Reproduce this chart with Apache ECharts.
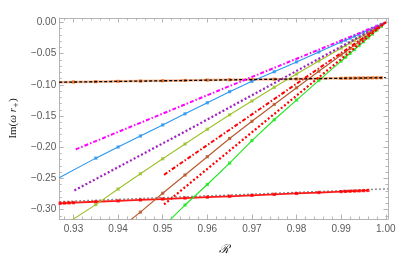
<!DOCTYPE html>
<html><head><meta charset="utf-8">
<script src="https://cdn.jsdelivr.net/npm/echarts@6/dist/echarts.min.js"></script>
<style>html,body{margin:0;padding:0;background:#fff}#c{width:407px;height:261px}</style>
</head><body><div id="c"></div>
<script>
// ---- tick labels ----
const xTickLabels = [0.93, 0.94, 0.95, 0.96, 0.97, 0.98, 0.99, 1.00];
const yTickLabels = [0.00, -0.05, -0.10, -0.15, -0.20, -0.25, -0.30];
const xMinorTicks = [0.928,0.932,0.934,0.936,0.938,0.942,0.944,0.946,0.948,0.952,0.954,0.956,0.958,0.962,0.964,0.966,0.968,0.972,0.974,0.976,0.978,0.982,0.984,0.986,0.988,0.992,0.994,0.996,0.998];
const yMinorTicks = [-0.01,-0.02,-0.03,-0.04,-0.06,-0.07,-0.08,-0.09,-0.11,-0.12,-0.13,-0.14,-0.16,-0.17,-0.18,-0.19,-0.21,-0.22,-0.23,-0.24,-0.26,-0.27,-0.28,-0.29,-0.31];

// ---- converging lines (no markers) ----
const magentaX = [0.9305, 0.965, 1.0];
const magentaY = [-0.2035, -0.102, 0];
const purpleX = [0.9302, 0.9577, 1.0];
const purpleY = [-0.2693, -0.1646, 0];
const redDashDotX = [0.9503, 1.0];
const redDashDotY = [-0.2442, 0];
const redDotX = [0.9503, 1.0];
const redDotY = [-0.2917, 0];

// ---- converging lines with markers (line start, markers, common end point) ----
const convergeX = 1.0, convergeY = 0;

const blueStartX = 0.9268, blueStartY = -0.249;
const blueX = [0.935,0.94,0.945,0.95,0.955,0.96,0.965,0.97,0.975,0.98,0.985,0.99,0.991,0.992,0.993,0.994,0.995,0.996,0.997,0.998,0.999];
const blueY = [-0.2175,-0.1997,-0.1820,-0.1643,-0.1465,-0.1288,-0.1110,-0.0945,-0.0790,-0.0633,-0.0475,-0.0316,-0.0285,-0.0253,-0.0221,-0.0190,-0.0158,-0.0126,-0.0095,-0.0063,-0.0032];

const oliveStartX = 0.9285, oliveStartY = -0.322;
const oliveX = [0.935,0.94,0.945,0.95,0.955,0.96,0.965,0.97,0.975,0.98,0.985,0.99,0.991,0.992,0.993,0.994,0.995,0.996,0.997,0.998,0.999];
const oliveY = [-0.292,-0.267,-0.2425,-0.2185,-0.1948,-0.1712,-0.148,-0.126,-0.104,-0.0828,-0.062,-0.0413,-0.0372,-0.033,-0.029,-0.0248,-0.0207,-0.0165,-0.0124,-0.0083,-0.0041];

const brownStartX = 0.942, brownStartY = -0.321;
const brownX = [0.945,0.95,0.955,0.96,0.965,0.97,0.975,0.98,0.985,0.99,0.991,0.992,0.993,0.994,0.995,0.996,0.997,0.998,0.999];
const brownY = [-0.304,-0.2738,-0.2445,-0.2152,-0.186,-0.1585,-0.1315,-0.1048,-0.0784,-0.0522,-0.047,-0.0418,-0.0365,-0.0313,-0.0261,-0.0209,-0.0157,-0.0104,-0.0052];

const greenStartX = 0.951, greenStartY = -0.321;
const greenX = [0.955,0.96,0.965,0.97,0.975,0.98,0.985,0.99,0.991,0.992,0.993,0.994,0.995,0.996,0.997,0.998,0.999];
const greenY = [-0.2926,-0.2597,-0.2255,-0.1894,-0.156,-0.1245,-0.093,-0.0621,-0.0559,-0.0497,-0.0435,-0.0373,-0.031,-0.0248,-0.0186,-0.0124,-0.0062];

// ---- nearly flat branches ----
const blackDashX = [0.9268, 1.0];
const blackDashY = [-0.0959, -0.0886];
const orangeStartX = 0.9268, orangeStartY = -0.0958;
const orangeX = [0.93,0.935,0.94,0.945,0.95,0.955,0.96,0.965,0.97,0.975,0.98,0.985,0.99,0.991,0.992,0.993,0.994,0.995,0.996,0.997,0.998,0.999];
const orangeY = [-0.0955,-0.0950,-0.0945,-0.0940,-0.0935,-0.0930,-0.0925,-0.0920,-0.0915,-0.0910,-0.0906,-0.0901,-0.0896,-0.0895,-0.0894,-0.0893,-0.0892,-0.0891,-0.0890,-0.0889,-0.0888,-0.0887];

const grayDotX = [0.9268, 1.0005];
const grayDotY = [-0.2873, -0.2667];
const redStartX = 0.9268, redStartY = -0.2899;
const redX = [0.927,0.928,0.929,0.93,0.935,0.94,0.945,0.95,0.955,0.96,0.965,0.97,0.975,0.98,0.985,0.99,0.991,0.992,0.993,0.994,0.995,0.996];
const redY = [-0.2898,-0.2895,-0.2892,-0.2889,-0.2874,-0.2860,-0.2845,-0.2830,-0.2815,-0.2800,-0.2786,-0.2771,-0.2756,-0.2741,-0.2726,-0.2711,-0.2708,-0.2705,-0.2702,-0.2699,-0.2696,-0.2693];

const zip = (xs, ys) => xs.map((x, i) => [x, ys[i]]);
const withEnds = (sx, sy, xs, ys, ex, ey) => {
  const d = [[sx, sy]].concat(zip(xs, ys));
  if (ex !== undefined) d.push([ex, ey]);
  return d;
};

const X_MIN = 0.9268, X_MAX = 1.0005, Y_MIN = -0.315, Y_MAX = 0.007;
const frameColor = '#b4b4b4';
const labelColor = '#5a5a5a';
const fmtY = v => (v < 0 ? '\u2212' : '') + Math.abs(v).toFixed(2);
const fmtX = v => v.toFixed(2);

function xAx(pos, ticks, len, showLabel, showLine, name) {
  return {
    type: 'value', position: pos, min: X_MIN, max: X_MAX,
    axisLine: { show: showLine, onZero: false, lineStyle: { color: frameColor, width: 1 } },
    axisTick: { show: true, inside: true, length: len, customValues: ticks, lineStyle: { color: frameColor } },
    axisLabel: { show: showLabel, customValues: ticks, formatter: fmtX, color: labelColor, fontSize: 10, fontFamily: 'Liberation Sans', margin: 5 },
    splitLine: { show: false },
    name: name || '', nameLocation: 'middle', nameGap: 25,
    nameTextStyle: { fontFamily: 'DejaVu Serif', fontStyle: 'italic', fontSize: 12, color: '#222' }
  };
}
function yAx(pos, ticks, len, showLabel, showLine, name) {
  return {
    type: 'value', position: pos, min: Y_MIN, max: Y_MAX,
    axisLine: { show: showLine, onZero: false, lineStyle: { color: frameColor, width: 1 } },
    axisTick: { show: true, inside: true, length: len, customValues: ticks, lineStyle: { color: frameColor } },
    axisLabel: { show: showLabel, customValues: ticks, formatter: fmtY, color: labelColor, fontSize: 10, fontFamily: 'Liberation Sans', margin: 3 },
    splitLine: { show: false },
    name: name || '', nameLocation: 'middle', nameGap: 33, nameRotate: 90,
    nameTextStyle: {
      fontFamily: 'Liberation Serif', fontSize: 11, color: '#222',
      rich: { n: { fontFamily: 'Liberation Serif', fontSize: 11, color: '#222' },
              i: { fontFamily: 'Liberation Serif', fontStyle: 'italic', fontSize: 11, color: '#222' },
              s: { fontFamily: 'DejaVu Serif', fontSize: 7, color: '#222', padding: [6, 0, 0, 0] } }
    }
  };
}

function lineS(data, color, width, type, z) {
  return { type: 'line', data, showSymbol: false, symbol: 'none', clip: true, z: z || 2,
    lineStyle: { color, width, type: type || 'solid', cap: 'butt' }, animation: false };
}
function markS(data, color, z) {
  return { type: 'scatter', data, symbol: 'rect', symbolSize: 3.2, clip: true, z: z || 3,
    itemStyle: { color }, animation: false };
}

const chart = echarts.init(document.getElementById('c'), null, { renderer: 'canvas' });
chart.setOption({
  backgroundColor: '#fff',
  animation: false,
  grid: { left: 47, right: 19, top: 18, bottom: 33, containLabel: false },
  xAxis: [
    xAx('bottom', xTickLabels, 4.5, true, true, '\u211B'),
    xAx('bottom', xMinorTicks, 2.5, false, false),
    xAx('top', xTickLabels, 4.5, false, true),
    xAx('top', xMinorTicks, 2.5, false, false)
  ],
  yAxis: [
    yAx('left', yTickLabels, 4.5, true, true, '{n|Im(}{i|\u03C9 r}{s|+}{n|)}'),
    yAx('left', yMinorTicks, 2.5, false, false),
    yAx('right', yTickLabels, 4.5, false, true),
    yAx('right', yMinorTicks, 2.5, false, false)
  ],
  series: [
    lineS(zip(grayDotX, grayDotY), '#8c8c8c', 1.5, [2, 2], 2),
    lineS(withEnds(redStartX, redStartY, redX, redY), '#ff1a1a', 1.8, 'solid', 2),
    markS(zip(redX, redY), '#ff0000', 3),
    lineS(withEnds(orangeStartX, orangeStartY, orangeX, orangeY), 'rgba(240,120,50,0.55)', 2.5, 'solid', 2),
    markS(zip(orangeX, orangeY), '#f06a1e', 3),
    lineS(zip(blackDashX, blackDashY), '#000', 1.3, [3, 2], 4),
    lineS(zip(magentaX, magentaY), '#ff00ff', 2, [4, 2, 1.5, 2], 4),
    lineS(withEnds(blueStartX, blueStartY, blueX, blueY, convergeX, convergeY), '#2a96f0', 1.1, 'solid', 2),
    markS(zip(blueX, blueY), '#2a96f0', 3),
    lineS(zip(purpleX, purpleY), '#a020c0', 2.2, [2, 2.2], 4),
    lineS(withEnds(oliveStartX, oliveStartY, oliveX, oliveY, convergeX, convergeY), '#9cc22a', 1.1, 'solid', 2),
    markS(zip(oliveX, oliveY), '#9cc22a', 3),
    lineS(zip(redDashDotX, redDashDotY), '#ff0000', 2, [4, 2, 1.5, 2], 4),
    lineS(withEnds(brownStartX, brownStartY, brownX, brownY, convergeX, convergeY), '#b5572b', 1.1, 'solid', 2),
    markS(zip(brownX, brownY), '#b5572b', 3),
    lineS(zip(redDotX, redDotY), '#ff0000', 2.2, [2, 2.2], 4),
    lineS(withEnds(greenStartX, greenStartY, greenX, greenY, convergeX, convergeY), '#1ee61e', 1.1, 'solid', 2),
    markS(zip(greenX, greenY), '#1ee61e', 3)
  ]
});
</script>
</body></html>
